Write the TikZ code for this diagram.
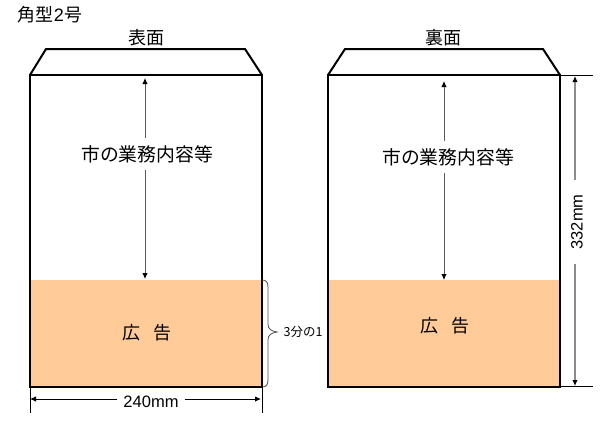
\documentclass[tikz,border=0pt]{standalone}
\usepackage{fontspec}
\setmainfont{Liberation Sans}
\newfontfamily\jpfont{Noto Sans CJK JP}
\usetikzlibrary{arrows.meta}
\definecolor{adcolor}{HTML}{FFCC99}
\tikzset{
	envelope/.style={draw=black, line width=2pt, line join=miter},
	adband/.style={fill=adcolor},
	guide/.style={draw=black!65, line width=0.9pt, -{Latex[black,length=6pt,width=5.5pt]}},
	heightguide/.style={draw=black!45, line width=1.3pt, -{Latex[black,length=6pt,width=5.5pt]}},
	widthguide/.style={draw=black, line width=0.8pt, -{Latex[black,length=6pt,width=5.5pt]}},
	extension/.style={draw=black, line width=0.8pt},
	jplabel/.style={font=\jpfont\fontsize{18}{18}\selectfont, inner sep=0pt},
	infolabel/.style={font=\jpfont\fontsize{18.8}{18.8}\selectfont, inner xsep=0pt, inner ysep=7pt},
	dimlabel/.style={font=\fontsize{16.5}{16.5}\selectfont, inner sep=6pt},
}
\begin{document}
\begin{tikzpicture}[x=1pt,y=-1pt]
	\useasboundingbox (0,0) rectangle (611,429);

	% front
	\fill[adband] (30,280) rectangle (262,387);
	\draw[envelope] (30,75) rectangle (262,387);
	\draw[envelope] (30,75) -- (46,49) -- (245,49) -- (262,75);
	\node[jplabel] (frontTitle) at (146,38) {表面};
	\node[jplabel] (sizeName) at (50,15) {角型\fontfamily{\rmdefault}\selectfont 2\jpfont 号};
	\node[infolabel] (frontInfo) at (147,154) {市の業務内容等};
	\node[jplabel] (frontAd) at (147,333) {広\hspace{0.67em}告};

	\coordinate (frontTip) at (145,78);
	\coordinate (frontEnd) at (145,279);
	\draw[guide] (frontInfo.north -| frontTip) -- (frontTip);
	\draw[guide] (frontInfo.south -| frontEnd) -- (frontEnd);

	% brace for the ad share
	\coordinate (braceTop) at (262,280);
	\coordinate (braceBottom) at (262,387);
	\node[font=\jpfont\fontsize{12.5}{12.5}\selectfont, inner sep=1pt] (shareLabel) at (303,332)
	   {3分の1};
	\coordinate (braceTip) at (277,332);
	\draw[black!70, line width=0.8pt] (braceTop) .. controls (266,280) and (268,282) .. (268,287)
	   -- (268,324) .. controls (268,329) and (271,331) .. (braceTip)
	   .. controls (271,333) and (268,335) .. (268,340)
	   -- (268,380) .. controls (268,385) and (266,387) .. (braceBottom);

	% width
	\node[dimlabel] (widthLabel) at (151,402) {240mm};
	\coordinate (widthLeft) at (30,399);
	\coordinate (widthRight) at (261,399);
	\draw[widthguide] (widthLabel.west |- widthLeft) -- (widthLeft);
	\draw[widthguide] (widthLabel.east |- widthRight) -- (widthRight);
	\draw[extension] (30,387) -- (30,413);
	\draw[extension] (262,387) -- (262,413);

	% back
	\fill[adband] (328,280) rectangle (560,387);
	\draw[envelope] (328,75) rectangle (560,387);
	\draw[envelope] (328,75) -- (345,49) -- (543,49) -- (560,75);
	\node[jplabel] (backTitle) at (443,38) {裏面};
	\node[infolabel] (backInfo) at (448,157) {市の業務内容等};
	\node[jplabel] (backAd) at (445,326) {広\hspace{0.67em}告};

	\coordinate (backTip) at (444,81);
	\coordinate (backEnd) at (444,280);
	\draw[guide] (backInfo.north -| backTip) -- (backTip);
	\draw[guide] (backInfo.south -| backEnd) -- (backEnd);

	% height
	\node[dimlabel, rotate=90, inner xsep=14pt] (heightLabel) at (577,222) {332mm};
	\coordinate (heightTop) at (575,76);
	\coordinate (heightBottom) at (575,386);
	\draw[heightguide] (heightLabel.east -| heightTop) -- (heightTop);
	\draw[heightguide] (heightLabel.west -| heightBottom) -- (heightBottom);
	\draw[extension] (560,75) -- (593,75);
	\draw[extension] (560,386) -- (593,386);
\end{tikzpicture}
\end{document}
